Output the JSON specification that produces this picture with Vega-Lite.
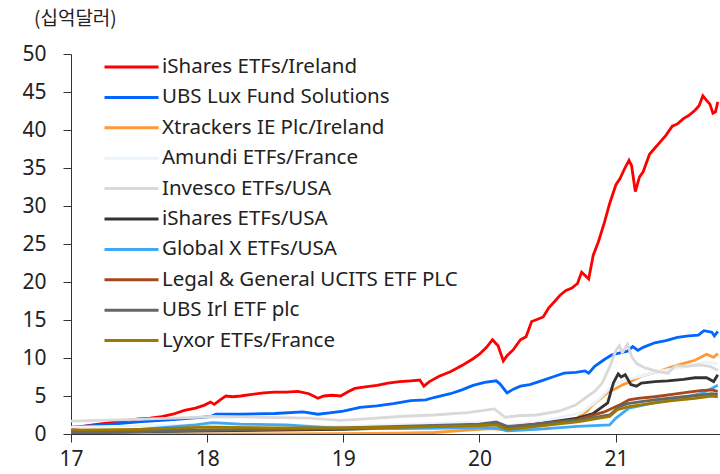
{
  "$schema": "https://vega.github.io/schema/vega-lite/v6.json",
  "width": 649,
  "height": 380,
  "autosize": {"type": "none"},
  "padding": {"left": 71, "top": 54, "right": 0, "bottom": 40},
  "background": "white",
  "config": {"view": {"stroke": null}, "font": "Noto Sans"},
  "title": {"text": "(십억달러)", "anchor": "start", "frame": "group", "dx": -37, "offset": 14, "font": "Noto Sans CJK KR", "fontSize": 19, "fontWeight": "normal", "color": "#222222"},
  "data": {"values": [
    {"s":"iShares ETFs/Ireland","d":"2017-01-01","v":0.8},
    {"s":"iShares ETFs/Ireland","d":"2017-02-01","v":1.0},
    {"s":"iShares ETFs/Ireland","d":"2017-03-01","v":1.2},
    {"s":"iShares ETFs/Ireland","d":"2017-04-01","v":1.4},
    {"s":"iShares ETFs/Ireland","d":"2017-05-01","v":1.6},
    {"s":"iShares ETFs/Ireland","d":"2017-06-01","v":1.8},
    {"s":"iShares ETFs/Ireland","d":"2017-07-01","v":2.0},
    {"s":"iShares ETFs/Ireland","d":"2017-08-01","v":2.1},
    {"s":"iShares ETFs/Ireland","d":"2017-09-01","v":2.3},
    {"s":"iShares ETFs/Ireland","d":"2017-10-01","v":2.6},
    {"s":"iShares ETFs/Ireland","d":"2017-11-01","v":3.1},
    {"s":"iShares ETFs/Ireland","d":"2017-12-01","v":3.4},
    {"s":"iShares ETFs/Ireland","d":"2017-12-25","v":3.8},
    {"s":"iShares ETFs/Ireland","d":"2018-01-10","v":4.2},
    {"s":"iShares ETFs/Ireland","d":"2018-01-20","v":3.9},
    {"s":"iShares ETFs/Ireland","d":"2018-02-05","v":4.5},
    {"s":"iShares ETFs/Ireland","d":"2018-02-20","v":5.0},
    {"s":"iShares ETFs/Ireland","d":"2018-03-10","v":4.9},
    {"s":"iShares ETFs/Ireland","d":"2018-04-01","v":5.0},
    {"s":"iShares ETFs/Ireland","d":"2018-05-01","v":5.2},
    {"s":"iShares ETFs/Ireland","d":"2018-06-01","v":5.4},
    {"s":"iShares ETFs/Ireland","d":"2018-07-01","v":5.5},
    {"s":"iShares ETFs/Ireland","d":"2018-08-01","v":5.5},
    {"s":"iShares ETFs/Ireland","d":"2018-09-01","v":5.6},
    {"s":"iShares ETFs/Ireland","d":"2018-10-01","v":5.3},
    {"s":"iShares ETFs/Ireland","d":"2018-10-25","v":4.7},
    {"s":"iShares ETFs/Ireland","d":"2018-11-10","v":5.0},
    {"s":"iShares ETFs/Ireland","d":"2018-12-01","v":5.1},
    {"s":"iShares ETFs/Ireland","d":"2018-12-25","v":5.0},
    {"s":"iShares ETFs/Ireland","d":"2019-01-15","v":5.6},
    {"s":"iShares ETFs/Ireland","d":"2019-02-01","v":6.0},
    {"s":"iShares ETFs/Ireland","d":"2019-03-01","v":6.2},
    {"s":"iShares ETFs/Ireland","d":"2019-04-01","v":6.4},
    {"s":"iShares ETFs/Ireland","d":"2019-05-01","v":6.7},
    {"s":"iShares ETFs/Ireland","d":"2019-06-01","v":6.9},
    {"s":"iShares ETFs/Ireland","d":"2019-07-01","v":7.0},
    {"s":"iShares ETFs/Ireland","d":"2019-07-25","v":7.1},
    {"s":"iShares ETFs/Ireland","d":"2019-08-05","v":6.3},
    {"s":"iShares ETFs/Ireland","d":"2019-08-20","v":6.9},
    {"s":"iShares ETFs/Ireland","d":"2019-09-15","v":7.6},
    {"s":"iShares ETFs/Ireland","d":"2019-10-15","v":8.2},
    {"s":"iShares ETFs/Ireland","d":"2019-11-15","v":9.0},
    {"s":"iShares ETFs/Ireland","d":"2019-12-15","v":9.9},
    {"s":"iShares ETFs/Ireland","d":"2020-01-01","v":10.5},
    {"s":"iShares ETFs/Ireland","d":"2020-01-20","v":11.4},
    {"s":"iShares ETFs/Ireland","d":"2020-02-05","v":12.4},
    {"s":"iShares ETFs/Ireland","d":"2020-02-20","v":11.6},
    {"s":"iShares ETFs/Ireland","d":"2020-03-05","v":9.6},
    {"s":"iShares ETFs/Ireland","d":"2020-03-15","v":10.3},
    {"s":"iShares ETFs/Ireland","d":"2020-04-01","v":11.1},
    {"s":"iShares ETFs/Ireland","d":"2020-04-20","v":12.4},
    {"s":"iShares ETFs/Ireland","d":"2020-05-05","v":12.8},
    {"s":"iShares ETFs/Ireland","d":"2020-05-20","v":14.8},
    {"s":"iShares ETFs/Ireland","d":"2020-06-05","v":15.1},
    {"s":"iShares ETFs/Ireland","d":"2020-06-20","v":15.4},
    {"s":"iShares ETFs/Ireland","d":"2020-07-05","v":16.6},
    {"s":"iShares ETFs/Ireland","d":"2020-07-20","v":17.4},
    {"s":"iShares ETFs/Ireland","d":"2020-08-05","v":18.3},
    {"s":"iShares ETFs/Ireland","d":"2020-08-20","v":18.9},
    {"s":"iShares ETFs/Ireland","d":"2020-09-05","v":19.2},
    {"s":"iShares ETFs/Ireland","d":"2020-09-20","v":19.8},
    {"s":"iShares ETFs/Ireland","d":"2020-10-01","v":21.3},
    {"s":"iShares ETFs/Ireland","d":"2020-10-12","v":20.8},
    {"s":"iShares ETFs/Ireland","d":"2020-10-20","v":20.4},
    {"s":"iShares ETFs/Ireland","d":"2020-11-01","v":23.5},
    {"s":"iShares ETFs/Ireland","d":"2020-11-15","v":25.3},
    {"s":"iShares ETFs/Ireland","d":"2020-12-01","v":27.8},
    {"s":"iShares ETFs/Ireland","d":"2020-12-15","v":30.3},
    {"s":"iShares ETFs/Ireland","d":"2021-01-01","v":32.8},
    {"s":"iShares ETFs/Ireland","d":"2021-01-12","v":33.6},
    {"s":"iShares ETFs/Ireland","d":"2021-01-25","v":35.0},
    {"s":"iShares ETFs/Ireland","d":"2021-02-05","v":36.0},
    {"s":"iShares ETFs/Ireland","d":"2021-02-12","v":35.3},
    {"s":"iShares ETFs/Ireland","d":"2021-02-22","v":31.9},
    {"s":"iShares ETFs/Ireland","d":"2021-03-05","v":33.8},
    {"s":"iShares ETFs/Ireland","d":"2021-03-15","v":34.5},
    {"s":"iShares ETFs/Ireland","d":"2021-04-01","v":36.8},
    {"s":"iShares ETFs/Ireland","d":"2021-04-15","v":37.6},
    {"s":"iShares ETFs/Ireland","d":"2021-05-01","v":38.5},
    {"s":"iShares ETFs/Ireland","d":"2021-05-15","v":39.3},
    {"s":"iShares ETFs/Ireland","d":"2021-06-01","v":40.5},
    {"s":"iShares ETFs/Ireland","d":"2021-06-15","v":40.8},
    {"s":"iShares ETFs/Ireland","d":"2021-07-01","v":41.5},
    {"s":"iShares ETFs/Ireland","d":"2021-07-15","v":41.9},
    {"s":"iShares ETFs/Ireland","d":"2021-08-01","v":42.6},
    {"s":"iShares ETFs/Ireland","d":"2021-08-12","v":43.2},
    {"s":"iShares ETFs/Ireland","d":"2021-08-22","v":44.5},
    {"s":"iShares ETFs/Ireland","d":"2021-09-01","v":43.9},
    {"s":"iShares ETFs/Ireland","d":"2021-09-10","v":43.4},
    {"s":"iShares ETFs/Ireland","d":"2021-09-18","v":42.2},
    {"s":"iShares ETFs/Ireland","d":"2021-09-25","v":42.4},
    {"s":"iShares ETFs/Ireland","d":"2021-10-01","v":43.7},

    {"s":"UBS Lux Fund Solutions","d":"2017-01-01","v":0.9},
    {"s":"UBS Lux Fund Solutions","d":"2017-04-01","v":1.2},
    {"s":"UBS Lux Fund Solutions","d":"2017-07-01","v":1.6},
    {"s":"UBS Lux Fund Solutions","d":"2017-10-01","v":1.9},
    {"s":"UBS Lux Fund Solutions","d":"2017-12-15","v":2.2},
    {"s":"UBS Lux Fund Solutions","d":"2018-01-10","v":2.3},
    {"s":"UBS Lux Fund Solutions","d":"2018-01-25","v":2.6},
    {"s":"UBS Lux Fund Solutions","d":"2018-04-01","v":2.6},
    {"s":"UBS Lux Fund Solutions","d":"2018-07-01","v":2.7},
    {"s":"UBS Lux Fund Solutions","d":"2018-09-15","v":2.9},
    {"s":"UBS Lux Fund Solutions","d":"2018-10-25","v":2.6},
    {"s":"UBS Lux Fund Solutions","d":"2018-12-01","v":2.8},
    {"s":"UBS Lux Fund Solutions","d":"2019-01-01","v":3.0},
    {"s":"UBS Lux Fund Solutions","d":"2019-02-15","v":3.5},
    {"s":"UBS Lux Fund Solutions","d":"2019-04-01","v":3.7},
    {"s":"UBS Lux Fund Solutions","d":"2019-05-15","v":4.0},
    {"s":"UBS Lux Fund Solutions","d":"2019-07-01","v":4.4},
    {"s":"UBS Lux Fund Solutions","d":"2019-08-10","v":4.5},
    {"s":"UBS Lux Fund Solutions","d":"2019-09-01","v":4.8},
    {"s":"UBS Lux Fund Solutions","d":"2019-10-15","v":5.3},
    {"s":"UBS Lux Fund Solutions","d":"2019-11-15","v":5.8},
    {"s":"UBS Lux Fund Solutions","d":"2019-12-15","v":6.4},
    {"s":"UBS Lux Fund Solutions","d":"2020-01-15","v":6.8},
    {"s":"UBS Lux Fund Solutions","d":"2020-02-15","v":7.0},
    {"s":"UBS Lux Fund Solutions","d":"2020-02-25","v":6.6},
    {"s":"UBS Lux Fund Solutions","d":"2020-03-15","v":5.4},
    {"s":"UBS Lux Fund Solutions","d":"2020-04-01","v":5.9},
    {"s":"UBS Lux Fund Solutions","d":"2020-04-20","v":6.3},
    {"s":"UBS Lux Fund Solutions","d":"2020-05-15","v":6.5},
    {"s":"UBS Lux Fund Solutions","d":"2020-06-15","v":7.0},
    {"s":"UBS Lux Fund Solutions","d":"2020-07-15","v":7.5},
    {"s":"UBS Lux Fund Solutions","d":"2020-08-15","v":8.0},
    {"s":"UBS Lux Fund Solutions","d":"2020-09-15","v":8.1},
    {"s":"UBS Lux Fund Solutions","d":"2020-10-10","v":8.3},
    {"s":"UBS Lux Fund Solutions","d":"2020-10-20","v":8.0},
    {"s":"UBS Lux Fund Solutions","d":"2020-11-05","v":8.9},
    {"s":"UBS Lux Fund Solutions","d":"2020-12-01","v":9.8},
    {"s":"UBS Lux Fund Solutions","d":"2020-12-20","v":10.4},
    {"s":"UBS Lux Fund Solutions","d":"2021-01-15","v":10.7},
    {"s":"UBS Lux Fund Solutions","d":"2021-02-01","v":10.9},
    {"s":"UBS Lux Fund Solutions","d":"2021-02-15","v":11.5},
    {"s":"UBS Lux Fund Solutions","d":"2021-03-01","v":11.0},
    {"s":"UBS Lux Fund Solutions","d":"2021-03-15","v":11.4},
    {"s":"UBS Lux Fund Solutions","d":"2021-04-15","v":12.0},
    {"s":"UBS Lux Fund Solutions","d":"2021-05-15","v":12.3},
    {"s":"UBS Lux Fund Solutions","d":"2021-06-15","v":12.7},
    {"s":"UBS Lux Fund Solutions","d":"2021-07-15","v":12.9},
    {"s":"UBS Lux Fund Solutions","d":"2021-08-10","v":13.0},
    {"s":"UBS Lux Fund Solutions","d":"2021-08-25","v":13.6},
    {"s":"UBS Lux Fund Solutions","d":"2021-09-15","v":13.4},
    {"s":"UBS Lux Fund Solutions","d":"2021-09-22","v":12.9},
    {"s":"UBS Lux Fund Solutions","d":"2021-10-01","v":13.5},

    {"s":"Xtrackers IE Plc/Ireland","d":"2017-01-01","v":0.0},
    {"s":"Xtrackers IE Plc/Ireland","d":"2018-01-01","v":0.0},
    {"s":"Xtrackers IE Plc/Ireland","d":"2019-01-01","v":0.05},
    {"s":"Xtrackers IE Plc/Ireland","d":"2019-06-01","v":0.1},
    {"s":"Xtrackers IE Plc/Ireland","d":"2019-09-01","v":0.2},
    {"s":"Xtrackers IE Plc/Ireland","d":"2019-12-01","v":0.5},
    {"s":"Xtrackers IE Plc/Ireland","d":"2020-02-01","v":0.7},
    {"s":"Xtrackers IE Plc/Ireland","d":"2020-03-15","v":0.5},
    {"s":"Xtrackers IE Plc/Ireland","d":"2020-06-01","v":1.0},
    {"s":"Xtrackers IE Plc/Ireland","d":"2020-08-01","v":1.4},
    {"s":"Xtrackers IE Plc/Ireland","d":"2020-09-15","v":2.0},
    {"s":"Xtrackers IE Plc/Ireland","d":"2020-10-15","v":3.0},
    {"s":"Xtrackers IE Plc/Ireland","d":"2020-11-01","v":3.9},
    {"s":"Xtrackers IE Plc/Ireland","d":"2020-11-20","v":4.6},
    {"s":"Xtrackers IE Plc/Ireland","d":"2020-12-10","v":5.5},
    {"s":"Xtrackers IE Plc/Ireland","d":"2021-01-01","v":6.0},
    {"s":"Xtrackers IE Plc/Ireland","d":"2021-01-20","v":6.5},
    {"s":"Xtrackers IE Plc/Ireland","d":"2021-02-10","v":6.9},
    {"s":"Xtrackers IE Plc/Ireland","d":"2021-03-10","v":7.6},
    {"s":"Xtrackers IE Plc/Ireland","d":"2021-05-01","v":8.3},
    {"s":"Xtrackers IE Plc/Ireland","d":"2021-06-10","v":9.0},
    {"s":"Xtrackers IE Plc/Ireland","d":"2021-08-01","v":9.7},
    {"s":"Xtrackers IE Plc/Ireland","d":"2021-09-01","v":10.5},
    {"s":"Xtrackers IE Plc/Ireland","d":"2021-09-20","v":10.1},
    {"s":"Xtrackers IE Plc/Ireland","d":"2021-10-01","v":10.6},

    {"s":"Amundi ETFs/France","d":"2017-01-01","v":0.9},
    {"s":"Amundi ETFs/France","d":"2018-01-01","v":1.2},
    {"s":"Amundi ETFs/France","d":"2019-01-01","v":1.0},
    {"s":"Amundi ETFs/France","d":"2020-01-01","v":1.6},
    {"s":"Amundi ETFs/France","d":"2020-03-15","v":1.1},
    {"s":"Amundi ETFs/France","d":"2020-07-01","v":1.8},
    {"s":"Amundi ETFs/France","d":"2020-10-01","v":2.8},
    {"s":"Amundi ETFs/France","d":"2020-11-15","v":4.5},
    {"s":"Amundi ETFs/France","d":"2020-12-15","v":6.0},
    {"s":"Amundi ETFs/France","d":"2021-01-15","v":7.0},
    {"s":"Amundi ETFs/France","d":"2021-03-01","v":7.5},
    {"s":"Amundi ETFs/France","d":"2021-05-01","v":8.3},
    {"s":"Amundi ETFs/France","d":"2021-07-01","v":8.8},
    {"s":"Amundi ETFs/France","d":"2021-09-01","v":9.5},
    {"s":"Amundi ETFs/France","d":"2021-10-01","v":9.2},

    {"s":"Invesco ETFs/USA","d":"2017-01-01","v":1.7},
    {"s":"Invesco ETFs/USA","d":"2017-06-01","v":1.9},
    {"s":"Invesco ETFs/USA","d":"2017-12-01","v":2.2},
    {"s":"Invesco ETFs/USA","d":"2018-01-15","v":2.3},
    {"s":"Invesco ETFs/USA","d":"2018-06-01","v":2.2},
    {"s":"Invesco ETFs/USA","d":"2018-10-01","v":2.1},
    {"s":"Invesco ETFs/USA","d":"2018-12-25","v":1.8},
    {"s":"Invesco ETFs/USA","d":"2019-03-01","v":2.0},
    {"s":"Invesco ETFs/USA","d":"2019-06-01","v":2.3},
    {"s":"Invesco ETFs/USA","d":"2019-09-01","v":2.5},
    {"s":"Invesco ETFs/USA","d":"2019-12-01","v":2.8},
    {"s":"Invesco ETFs/USA","d":"2020-02-10","v":3.3},
    {"s":"Invesco ETFs/USA","d":"2020-03-10","v":2.2},
    {"s":"Invesco ETFs/USA","d":"2020-04-15","v":2.4},
    {"s":"Invesco ETFs/USA","d":"2020-06-01","v":2.5},
    {"s":"Invesco ETFs/USA","d":"2020-08-01","v":3.0},
    {"s":"Invesco ETFs/USA","d":"2020-09-15","v":3.8},
    {"s":"Invesco ETFs/USA","d":"2020-10-15","v":4.9},
    {"s":"Invesco ETFs/USA","d":"2020-11-05","v":5.6},
    {"s":"Invesco ETFs/USA","d":"2020-11-25","v":6.7},
    {"s":"Invesco ETFs/USA","d":"2020-12-15","v":8.8},
    {"s":"Invesco ETFs/USA","d":"2021-01-01","v":11.0},
    {"s":"Invesco ETFs/USA","d":"2021-01-10","v":11.6},
    {"s":"Invesco ETFs/USA","d":"2021-01-18","v":10.7},
    {"s":"Invesco ETFs/USA","d":"2021-02-01","v":11.8},
    {"s":"Invesco ETFs/USA","d":"2021-02-12","v":10.2},
    {"s":"Invesco ETFs/USA","d":"2021-02-25","v":9.3},
    {"s":"Invesco ETFs/USA","d":"2021-03-20","v":8.7},
    {"s":"Invesco ETFs/USA","d":"2021-04-25","v":8.2},
    {"s":"Invesco ETFs/USA","d":"2021-05-20","v":8.0},
    {"s":"Invesco ETFs/USA","d":"2021-06-10","v":9.0},
    {"s":"Invesco ETFs/USA","d":"2021-07-10","v":8.9},
    {"s":"Invesco ETFs/USA","d":"2021-08-10","v":9.1},
    {"s":"Invesco ETFs/USA","d":"2021-09-10","v":8.9},
    {"s":"Invesco ETFs/USA","d":"2021-10-01","v":8.4},

    {"s":"iShares ETFs/USA","d":"2017-01-01","v":0.2},
    {"s":"iShares ETFs/USA","d":"2018-01-01","v":0.4},
    {"s":"iShares ETFs/USA","d":"2019-01-01","v":0.6},
    {"s":"iShares ETFs/USA","d":"2020-01-01","v":1.1},
    {"s":"iShares ETFs/USA","d":"2020-02-15","v":1.3},
    {"s":"iShares ETFs/USA","d":"2020-03-15","v":0.8},
    {"s":"iShares ETFs/USA","d":"2020-06-01","v":1.3},
    {"s":"iShares ETFs/USA","d":"2020-09-20","v":2.1},
    {"s":"iShares ETFs/USA","d":"2020-11-01","v":2.7},
    {"s":"iShares ETFs/USA","d":"2020-12-10","v":4.1},
    {"s":"iShares ETFs/USA","d":"2020-12-25","v":6.7},
    {"s":"iShares ETFs/USA","d":"2021-01-07","v":7.9},
    {"s":"iShares ETFs/USA","d":"2021-01-15","v":7.5},
    {"s":"iShares ETFs/USA","d":"2021-01-26","v":7.8},
    {"s":"iShares ETFs/USA","d":"2021-02-10","v":6.5},
    {"s":"iShares ETFs/USA","d":"2021-02-25","v":6.3},
    {"s":"iShares ETFs/USA","d":"2021-03-10","v":6.7},
    {"s":"iShares ETFs/USA","d":"2021-04-15","v":6.9},
    {"s":"iShares ETFs/USA","d":"2021-05-20","v":7.0},
    {"s":"iShares ETFs/USA","d":"2021-07-01","v":7.2},
    {"s":"iShares ETFs/USA","d":"2021-08-01","v":7.4},
    {"s":"iShares ETFs/USA","d":"2021-09-01","v":7.4},
    {"s":"iShares ETFs/USA","d":"2021-09-20","v":6.9},
    {"s":"iShares ETFs/USA","d":"2021-10-01","v":7.8},

    {"s":"Global X ETFs/USA","d":"2017-01-01","v":0.2},
    {"s":"Global X ETFs/USA","d":"2017-05-01","v":0.3},
    {"s":"Global X ETFs/USA","d":"2017-08-01","v":0.7},
    {"s":"Global X ETFs/USA","d":"2017-12-01","v":1.2},
    {"s":"Global X ETFs/USA","d":"2018-01-15","v":1.5},
    {"s":"Global X ETFs/USA","d":"2018-04-01","v":1.3},
    {"s":"Global X ETFs/USA","d":"2018-08-01","v":1.2},
    {"s":"Global X ETFs/USA","d":"2018-12-01","v":0.8},
    {"s":"Global X ETFs/USA","d":"2019-06-01","v":0.7},
    {"s":"Global X ETFs/USA","d":"2019-12-01","v":0.8},
    {"s":"Global X ETFs/USA","d":"2020-02-15","v":0.8},
    {"s":"Global X ETFs/USA","d":"2020-03-15","v":0.4},
    {"s":"Global X ETFs/USA","d":"2020-06-01","v":0.6},
    {"s":"Global X ETFs/USA","d":"2020-09-20","v":1.0},
    {"s":"Global X ETFs/USA","d":"2020-12-15","v":1.2},
    {"s":"Global X ETFs/USA","d":"2021-01-01","v":2.1},
    {"s":"Global X ETFs/USA","d":"2021-02-05","v":3.4},
    {"s":"Global X ETFs/USA","d":"2021-03-15","v":3.8},
    {"s":"Global X ETFs/USA","d":"2021-05-01","v":4.3},
    {"s":"Global X ETFs/USA","d":"2021-07-01","v":4.8},
    {"s":"Global X ETFs/USA","d":"2021-08-15","v":5.3},
    {"s":"Global X ETFs/USA","d":"2021-09-15","v":6.0},
    {"s":"Global X ETFs/USA","d":"2021-10-01","v":6.4},

    {"s":"Legal & General UCITS ETF PLC","d":"2017-01-01","v":0.3},
    {"s":"Legal & General UCITS ETF PLC","d":"2018-01-01","v":0.5},
    {"s":"Legal & General UCITS ETF PLC","d":"2019-01-01","v":0.7},
    {"s":"Legal & General UCITS ETF PLC","d":"2020-01-01","v":1.2},
    {"s":"Legal & General UCITS ETF PLC","d":"2020-02-15","v":1.3},
    {"s":"Legal & General UCITS ETF PLC","d":"2020-03-15","v":0.9},
    {"s":"Legal & General UCITS ETF PLC","d":"2020-06-01","v":1.3},
    {"s":"Legal & General UCITS ETF PLC","d":"2020-09-20","v":1.9},
    {"s":"Legal & General UCITS ETF PLC","d":"2020-12-01","v":2.9},
    {"s":"Legal & General UCITS ETF PLC","d":"2021-01-10","v":3.8},
    {"s":"Legal & General UCITS ETF PLC","d":"2021-02-05","v":4.5},
    {"s":"Legal & General UCITS ETF PLC","d":"2021-03-01","v":4.7},
    {"s":"Legal & General UCITS ETF PLC","d":"2021-04-15","v":4.9},
    {"s":"Legal & General UCITS ETF PLC","d":"2021-06-01","v":5.2},
    {"s":"Legal & General UCITS ETF PLC","d":"2021-07-15","v":5.5},
    {"s":"Legal & General UCITS ETF PLC","d":"2021-08-15","v":5.7},
    {"s":"Legal & General UCITS ETF PLC","d":"2021-09-15","v":5.8},
    {"s":"Legal & General UCITS ETF PLC","d":"2021-10-01","v":5.6},

    {"s":"UBS Irl ETF plc","d":"2017-01-01","v":0.1},
    {"s":"UBS Irl ETF plc","d":"2018-01-01","v":0.5},
    {"s":"UBS Irl ETF plc","d":"2019-01-01","v":0.8},
    {"s":"UBS Irl ETF plc","d":"2020-01-01","v":1.3},
    {"s":"UBS Irl ETF plc","d":"2020-02-15","v":1.6},
    {"s":"UBS Irl ETF plc","d":"2020-03-15","v":1.0},
    {"s":"UBS Irl ETF plc","d":"2020-06-01","v":1.3},
    {"s":"UBS Irl ETF plc","d":"2020-09-20","v":1.8},
    {"s":"UBS Irl ETF plc","d":"2020-12-15","v":2.5},
    {"s":"UBS Irl ETF plc","d":"2021-01-10","v":3.6},
    {"s":"UBS Irl ETF plc","d":"2021-02-01","v":4.0},
    {"s":"UBS Irl ETF plc","d":"2021-03-15","v":4.3},
    {"s":"UBS Irl ETF plc","d":"2021-05-01","v":4.6},
    {"s":"UBS Irl ETF plc","d":"2021-07-01","v":4.9},
    {"s":"UBS Irl ETF plc","d":"2021-08-15","v":5.1},
    {"s":"UBS Irl ETF plc","d":"2021-09-15","v":5.3},
    {"s":"UBS Irl ETF plc","d":"2021-10-01","v":5.2},

    {"s":"Lyxor ETFs/France","d":"2017-01-01","v":0.5},
    {"s":"Lyxor ETFs/France","d":"2017-07-01","v":0.6},
    {"s":"Lyxor ETFs/France","d":"2018-01-01","v":0.9},
    {"s":"Lyxor ETFs/France","d":"2018-07-01","v":0.8},
    {"s":"Lyxor ETFs/France","d":"2019-01-01","v":0.8},
    {"s":"Lyxor ETFs/France","d":"2019-07-01","v":0.9},
    {"s":"Lyxor ETFs/France","d":"2020-01-01","v":1.1},
    {"s":"Lyxor ETFs/France","d":"2020-02-15","v":1.2},
    {"s":"Lyxor ETFs/France","d":"2020-03-15","v":0.6},
    {"s":"Lyxor ETFs/France","d":"2020-06-01","v":1.0},
    {"s":"Lyxor ETFs/France","d":"2020-09-20","v":1.6},
    {"s":"Lyxor ETFs/France","d":"2020-12-15","v":2.3},
    {"s":"Lyxor ETFs/France","d":"2021-01-05","v":3.2},
    {"s":"Lyxor ETFs/France","d":"2021-02-05","v":3.6},
    {"s":"Lyxor ETFs/France","d":"2021-04-01","v":4.0},
    {"s":"Lyxor ETFs/France","d":"2021-06-01","v":4.4},
    {"s":"Lyxor ETFs/France","d":"2021-08-01","v":4.7},
    {"s":"Lyxor ETFs/France","d":"2021-09-15","v":5.0},
    {"s":"Lyxor ETFs/France","d":"2021-10-01","v":4.9}
  ]},
  "mark": {"type": "line", "strokeWidth": 2.8, "clip": true},
  "encoding": {
    "x": {
      "field": "d", "type": "temporal",
      "scale": {"domain": [{"year": 2017, "month": 1, "date": 1}, {"year": 2021, "month": 10, "date": 7}]},
      "axis": {"title": null, "format": "%y", "grid": false,
        "values": [{"year": 2017, "month": 1, "date": 1}, {"year": 2018, "month": 1, "date": 1}, {"year": 2019, "month": 1, "date": 1}, {"year": 2020, "month": 1, "date": 1}, {"year": 2021, "month": 1, "date": 1}],
        "labelFontSize": 21, "labelColor": "#222222", "tickSize": 8, "labelPadding": 6,
        "domainColor": "#333333", "tickColor": "#333333", "labelFlush": false}
    },
    "y": {
      "field": "v", "type": "quantitative",
      "scale": {"domain": [0, 50], "nice": false},
      "axis": {"title": null, "grid": false, "values": [0, 5, 10, 15, 20, 25, 30, 35, 40, 45, 50],
        "labelFontSize": 21, "labelColor": "#222222", "tickSize": 8, "labelPadding": 17,
        "domainColor": "#333333", "tickColor": "#333333"}
    },
    "color": {
      "field": "s", "type": "nominal",
      "scale": {
        "domain": ["iShares ETFs/Ireland", "UBS Lux Fund Solutions", "Xtrackers IE Plc/Ireland", "Amundi ETFs/France", "Invesco ETFs/USA", "iShares ETFs/USA", "Global X ETFs/USA", "Legal & General UCITS ETF PLC", "UBS Irl ETF plc", "Lyxor ETFs/France"],
        "range": ["#ff0000", "#0066ff", "#ff9933", "#eaf3fc", "#d9d9d9", "#333333", "#3fa9f5", "#a5491b", "#666666", "#9c7a00"]
      },
      "sort": null,
      "legend": {"title": null, "orient": "none", "legendX": 49, "legendY": 1.5, "padding": 0,
        "symbolType": "M-2.7,0H2.7", "symbolSize": 400, "symbolStrokeWidth": 3,
        "labelFontSize": 20.5, "labelColor": "#222222", "labelLimit": 400, "labelOffset": 19, "rowPadding": 8.4}
    }
  }
}
